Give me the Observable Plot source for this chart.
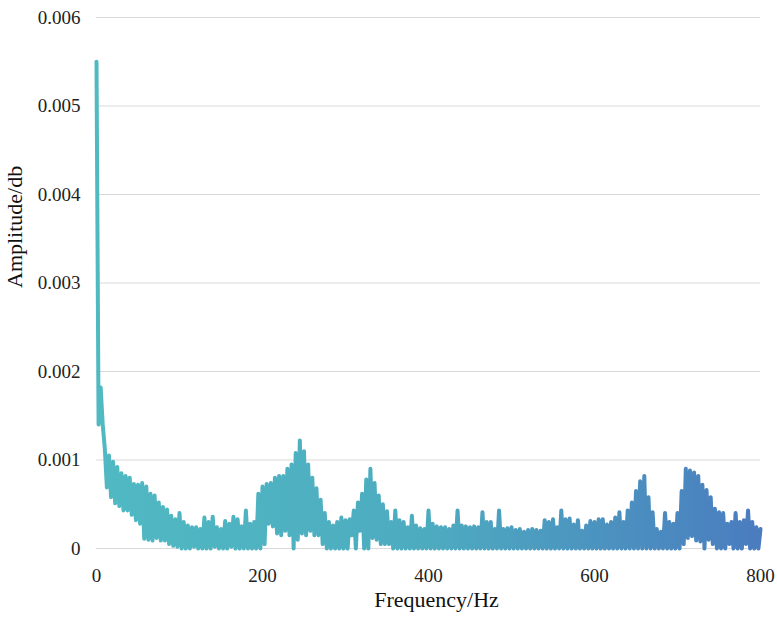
<!DOCTYPE html>
<html>
<head>
<meta charset="utf-8">
<script src="https://cdn.jsdelivr.net/npm/d3@7"></script>
<script src="https://cdn.jsdelivr.net/npm/@observablehq/plot@0.6"></script>
<style>
  html, body { margin: 0; padding: 0; background: #ffffff; }
  #chart svg { display: block; }
</style>
</head>
<body>
<div id="chart"></div>
<script>
// Sample grid (Hz): upper samples at every 5 Hz, lower samples half-way between them
const freqHz = d3.range(0, 801, 5);

// Upper envelope of the oscillating spectrum (amplitude), one per freqHz
const peakAmp = [
  0.00550, 0.00182, 0.00113, 0.00105, 0.00098, 0.00092, 0.00085, 0.00082, 0.00080, 0.00073,
  0.00072, 0.00074, 0.00070, 0.00062, 0.00060, 0.00052, 0.00047, 0.00044, 0.00037, 0.00033,
  0.00040, 0.00030, 0.00026, 0.00024, 0.00024, 0.00022, 0.00035, 0.00030, 0.00036, 0.00024,
  0.00022, 0.00031, 0.00028, 0.00036, 0.00033, 0.00025, 0.00043, 0.00028, 0.00030, 0.00062,
  0.00070, 0.00073, 0.00074, 0.00080, 0.00082, 0.00082, 0.00090, 0.00095, 0.00108, 0.00122,
  0.00110, 0.00095, 0.00080, 0.00068, 0.00055, 0.00040, 0.00030, 0.00026, 0.00030, 0.00035,
  0.00032, 0.00033, 0.00043, 0.00052, 0.00062, 0.00078, 0.00090, 0.00074, 0.00060, 0.00050,
  0.00042, 0.00030, 0.00043, 0.00032, 0.00030, 0.00024, 0.00037, 0.00026, 0.00023, 0.00022,
  0.00043, 0.00028, 0.00025, 0.00024, 0.00024, 0.00022, 0.00026, 0.00043, 0.00026, 0.00025,
  0.00024, 0.00025, 0.00024, 0.00041, 0.00030, 0.00030, 0.00022, 0.00043, 0.00022, 0.00023,
  0.00024, 0.00021, 0.00022, 0.00019, 0.00021, 0.00022, 0.00021, 0.00020, 0.00032, 0.00030,
  0.00033, 0.00024, 0.00043, 0.00033, 0.00034, 0.00027, 0.00032, 0.00020, 0.00026, 0.00031,
  0.00030, 0.00033, 0.00033, 0.00027, 0.00030, 0.00035, 0.00041, 0.00030, 0.00043, 0.00052,
  0.00065, 0.00076, 0.00082, 0.00058, 0.00041, 0.00022, 0.00019, 0.00040, 0.00030, 0.00028,
  0.00040, 0.00065, 0.00090, 0.00088, 0.00086, 0.00082, 0.00072, 0.00066, 0.00058, 0.00045,
  0.00041, 0.00040, 0.00028, 0.00030, 0.00040, 0.00030, 0.00032, 0.00043, 0.00030, 0.00024,
  0.00022
];

// Lower envelope (amplitude) sampled between consecutive upper samples
const troughAmp = [
  0.00140, 0.00140, 0.00069, 0.00058, 0.00051, 0.00048, 0.00043, 0.00043, 0.00038, 0.00032,
  0.00028, 0.00011, 0.00010, 0.00009, 0.00012, 0.00009, 0.00009, 0.00005, 0.00003, 0.00002,
  0.00000, 0.00000, 0.00000, 0.00002, 0.00000, 0.00000, 0.00000, 0.00000, 0.00002, 0.00000,
  0.00000, 0.00000, 0.00002, 0.00000, 0.00000, 0.00000, 0.00000, 0.00000, 0.00000, 0.00000,
  0.00005, 0.00028, 0.00025, 0.00017, 0.00015, 0.00020, 0.00015, 0.00000, 0.00010, 0.00017,
  0.00015, 0.00020, 0.00015, 0.00015, 0.00005, 0.00000, 0.00000, 0.00000, 0.00000, 0.00000,
  0.00000, 0.00015, 0.00000, 0.00020, 0.00000, 0.00000, 0.00012, 0.00010, 0.00005, 0.00005,
  0.00005, 0.00000, 0.00000, 0.00000, 0.00000, 0.00000, 0.00000, 0.00000, 0.00000, 0.00000,
  0.00000, 0.00000, 0.00000, 0.00000, 0.00000, 0.00000, 0.00000, 0.00000, 0.00000, 0.00000,
  0.00000, 0.00000, 0.00000, 0.00000, 0.00000, 0.00000, 0.00000, 0.00000, 0.00000, 0.00000,
  0.00000, 0.00000, 0.00000, 0.00000, 0.00000, 0.00000, 0.00000, 0.00000, 0.00000, 0.00000,
  0.00000, 0.00000, 0.00000, 0.00000, 0.00000, 0.00000, 0.00000, 0.00000, 0.00000, 0.00000,
  0.00000, 0.00000, 0.00000, 0.00000, 0.00000, 0.00000, 0.00000, 0.00000, 0.00000, 0.00000,
  0.00000, 0.00000, 0.00000, 0.00000, 0.00000, 0.00000, 0.00000, 0.00000, 0.00000, 0.00000,
  0.00000, 0.00005, 0.00012, 0.00014, 0.00009, 0.00008, 0.00000, 0.00010, 0.00005, 0.00000,
  0.00000, 0.00000, 0.00005, 0.00000, 0.00000, 0.00000, 0.00005, 0.00000, 0.00000, 0.00000
];

const xTicks = [0, 200, 400, 600, 800];
const yTicks = [0, 0.001, 0.002, 0.003, 0.004, 0.005, 0.006];
const xTitle = "Frequency/Hz";
const yTitle = "Amplitude/db";
const gradColors = ["#50b9c2", "#4dabc0", "#4a7cbf"];

// Interleave upper and lower samples into one spectrum trace
const points = [];
freqHz.forEach((f, i) => {
  points.push({ f, a: peakAmp[i] });
  if (i < troughAmp.length) points.push({ f: f + 2.5, a: troughAmp[i] });
});

const gradientDefs = (index, scales) => {
  const defs = d3.create("svg:defs");
  const g = defs.append("linearGradient")
    .attr("id", "specGrad")
    .attr("gradientUnits", "userSpaceOnUse")
    .attr("x1", scales.x(0)).attr("x2", scales.x(800))
    .attr("y1", 0).attr("y2", 0);
  gradColors.forEach((c, i) => {
    g.append("stop").attr("offset", i / (gradColors.length - 1)).attr("stop-color", c);
  });
  return defs.node();
};

const chart = Plot.plot({
  width: 777,
  height: 624,
  marginLeft: 96,
  marginRight: 17,
  marginTop: 17,
  marginBottom: 76,
  style: {
    fontFamily: "'Liberation Serif', 'Times New Roman', serif",
    fontSize: "19px",
    color: "#222222",
    background: "#ffffff"
  },
  x: { domain: [0, 800], ticks: xTicks, tickSize: 0, tickPadding: 20, label: null },
  y: {
    domain: [0, 0.006], ticks: yTicks, tickSize: 0, tickPadding: 16, label: null,
    tickFormat: d => d === 0 ? "0" : d.toFixed(3)
  },
  marks: [
    gradientDefs,
    Plot.ruleY(yTicks, { stroke: "#d9d9d9", strokeWidth: 1.2 }),
    Plot.line(points, {
      x: "f", y: "a",
      stroke: "url(#specGrad)",
      strokeWidth: 4,
      strokeLinejoin: "round",
      strokeLinecap: "round"
    }),
    Plot.text([xTitle], {
      frameAnchor: "bottom", dy: 58, dx: 8, text: d => d,
      fontSize: 22, fill: "#111111"
    }),
    Plot.text([yTitle], {
      frameAnchor: "left", dx: -82, dy: 5, rotate: -90, text: d => d,
      fontSize: 22, fill: "#111111"
    })
  ]
});

document.getElementById("chart").appendChild(chart);
</script>
</body>
</html>
